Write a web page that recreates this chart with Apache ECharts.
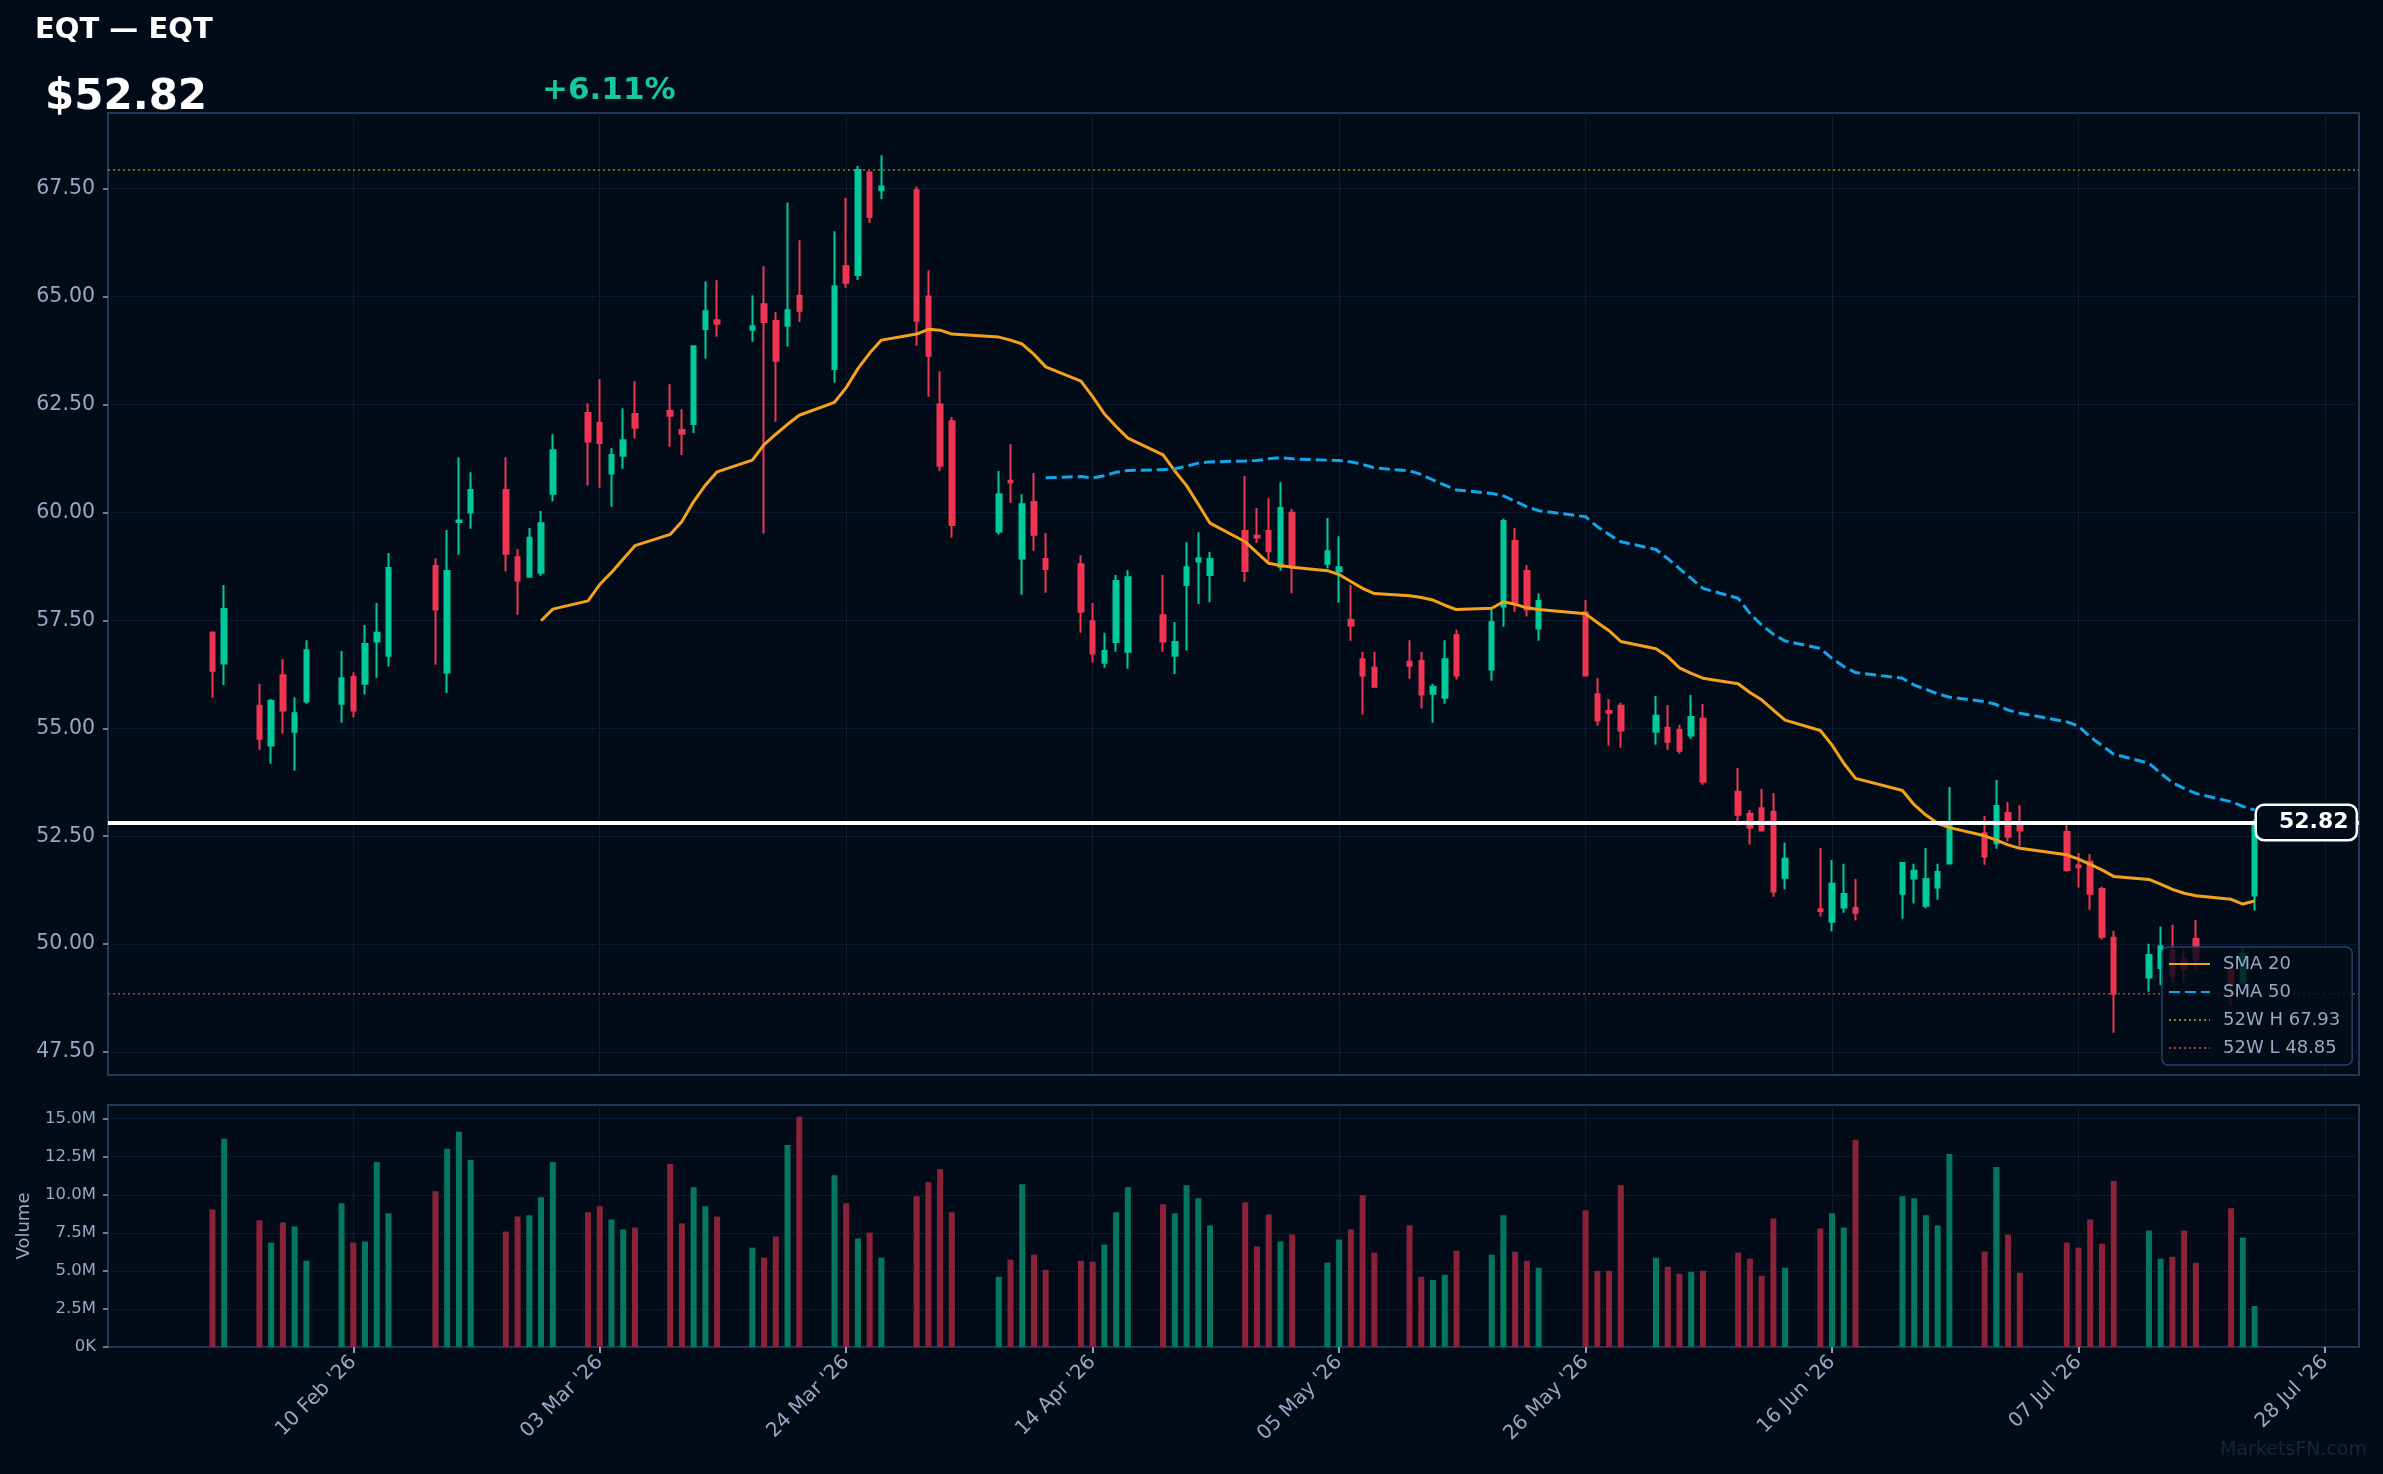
<!DOCTYPE html>
<html>
<head>
<meta charset="utf-8">
<title>EQT</title>
<script src="https://cdn.jsdelivr.net/npm/echarts@6/dist/echarts.min.js"></script>
<style>
  html, body { margin: 0; padding: 0; background: #010c18; }
  #chart { width: 2383px; height: 1474px; }
</style>
</head>
<body>
<div id="chart"></div>
<script>
// trading days
const dates = ['2026-01-29','2026-01-30','2026-02-02','2026-02-03','2026-02-04','2026-02-05','2026-02-06','2026-02-09','2026-02-10','2026-02-11',
  '2026-02-12','2026-02-13','2026-02-17','2026-02-18','2026-02-19','2026-02-20','2026-02-23','2026-02-24','2026-02-25','2026-02-26',
  '2026-02-27','2026-03-02','2026-03-03','2026-03-04','2026-03-05','2026-03-06','2026-03-09','2026-03-10','2026-03-11','2026-03-12',
  '2026-03-13','2026-03-16','2026-03-17','2026-03-18','2026-03-19','2026-03-20','2026-03-23','2026-03-24','2026-03-25','2026-03-26',
  '2026-03-27','2026-03-30','2026-03-31','2026-04-01','2026-04-02','2026-04-06','2026-04-07','2026-04-08','2026-04-09','2026-04-10',
  '2026-04-13','2026-04-14','2026-04-15','2026-04-16','2026-04-17','2026-04-20','2026-04-21','2026-04-22','2026-04-23','2026-04-24',
  '2026-04-27','2026-04-28','2026-04-29','2026-04-30','2026-05-01','2026-05-04','2026-05-05','2026-05-06','2026-05-07','2026-05-08',
  '2026-05-11','2026-05-12','2026-05-13','2026-05-14','2026-05-15','2026-05-18','2026-05-19','2026-05-20','2026-05-21','2026-05-22',
  '2026-05-26','2026-05-27','2026-05-28','2026-05-29','2026-06-01','2026-06-02','2026-06-03','2026-06-04','2026-06-05','2026-06-08',
  '2026-06-09','2026-06-10','2026-06-11','2026-06-12','2026-06-15','2026-06-16','2026-06-17','2026-06-18','2026-06-22','2026-06-23',
  '2026-06-24','2026-06-25','2026-06-26','2026-06-29','2026-06-30','2026-07-01','2026-07-02','2026-07-06','2026-07-07','2026-07-08',
  '2026-07-09','2026-07-10','2026-07-13','2026-07-14','2026-07-15','2026-07-16','2026-07-17','2026-07-20','2026-07-21','2026-07-22'];

const opens = [57.21,56.50,55.52,54.60,56.23,54.92,55.62,55.57,56.19,56.03,
  57.01,56.68,58.76,56.29,59.78,60.00,60.52,58.96,58.51,58.60,
  60.43,62.30,62.07,60.90,61.31,62.28,62.35,61.91,62.05,64.25,
  64.45,64.23,64.82,64.43,64.32,65.01,63.32,65.70,65.50,67.88,
  67.46,67.46,65.00,62.50,62.11,59.55,60.73,58.93,60.24,58.92,
  58.80,57.48,56.52,57.00,56.77,57.62,56.68,58.32,58.86,58.55,
  59.57,59.46,59.57,58.74,59.99,58.81,58.63,57.51,56.60,56.40,
  56.54,56.56,55.80,55.71,57.16,56.36,57.82,59.34,58.64,57.31,
  57.69,55.79,55.40,55.52,54.92,55.01,54.96,54.83,55.22,53.53,
  53.02,53.15,53.06,51.54,50.81,50.52,50.85,50.84,51.17,51.52,
  50.89,51.31,51.87,52.57,52.34,53.04,52.79,52.60,51.82,51.91,
  51.28,50.15,49.23,49.45,49.85,49.64,50.12,49.44,49.11,51.13];

const highs = [57.25,58.32,56.03,55.68,56.60,55.72,57.04,56.79,56.30,57.39,
  57.90,59.06,58.94,59.59,61.28,60.93,61.28,59.15,59.64,60.03,
  61.81,62.53,63.09,61.49,62.41,63.04,62.97,62.39,63.87,65.35,
  65.38,65.03,65.70,64.64,67.18,66.30,66.51,67.28,68.02,67.90,
  68.27,67.55,65.61,63.27,62.21,60.96,61.58,60.42,60.91,59.52,
  59.01,57.90,57.21,58.55,58.66,58.55,57.46,59.31,59.54,59.08,
  60.84,60.10,60.33,60.70,60.08,59.87,59.45,58.32,56.77,56.77,
  57.04,56.77,56.03,57.04,57.28,57.75,59.85,59.64,58.78,58.13,
  57.97,56.16,55.68,55.59,55.75,55.54,55.08,55.77,55.56,54.08,
  53.11,53.60,53.50,52.35,52.23,51.95,51.86,51.51,51.90,51.86,
  52.23,51.86,53.64,52.97,53.80,53.29,53.22,52.79,52.11,52.09,
  51.33,50.31,50.01,50.41,50.45,49.87,50.56,49.50,49.91,52.90];

const lows = [55.71,56.00,54.50,54.18,54.88,54.02,55.57,55.13,55.25,55.78,
  56.17,56.43,56.47,55.82,59.02,59.62,58.63,57.63,58.51,58.53,
  60.25,60.62,60.57,60.13,61.01,61.71,61.52,61.33,61.84,63.56,
  64.07,63.95,59.51,62.10,63.84,64.41,63.00,65.20,65.38,66.70,
  67.26,63.86,62.68,60.96,59.41,59.48,60.22,58.09,59.11,58.14,
  57.21,56.52,56.40,56.77,56.38,56.77,56.26,56.80,57.88,57.92,
  58.39,59.29,58.86,58.65,58.13,58.70,57.91,57.03,55.32,55.94,
  56.15,55.46,55.13,55.57,56.13,56.10,57.35,57.70,57.59,57.03,
  56.20,55.06,54.60,54.55,54.62,54.50,54.41,54.76,53.69,52.75,
  52.31,52.61,51.10,51.27,50.64,50.30,50.73,50.55,50.59,50.94,
  50.83,51.03,51.87,51.84,52.21,52.38,52.26,51.68,51.31,50.80,
  50.11,47.95,48.90,49.05,49.11,49.11,49.39,48.58,49.05,50.78];

const closes = [56.33,57.76,54.76,55.63,55.41,55.35,56.81,56.16,55.41,56.95,
  57.21,58.71,57.75,58.64,59.81,60.52,59.04,58.42,59.41,59.75,
  61.44,61.64,61.61,61.33,61.67,61.96,62.24,61.82,63.85,64.66,
  64.37,64.31,64.41,63.51,64.68,64.67,65.24,65.32,67.93,66.84,
  67.55,64.44,63.63,61.08,59.71,60.42,60.69,60.19,59.48,58.69,
  57.70,56.73,56.79,58.41,58.50,57.01,57.00,58.73,58.94,58.92,
  58.64,59.42,59.10,60.10,58.74,59.10,58.73,57.38,56.22,55.96,
  56.45,55.78,55.96,56.60,56.22,57.46,59.80,57.91,57.75,57.95,
  56.22,55.18,55.36,54.95,55.29,54.69,54.48,55.26,53.76,53.00,
  52.70,52.63,51.22,51.98,50.77,51.40,51.16,50.73,51.88,51.70,
  51.51,51.67,52.74,52.03,53.20,52.49,52.63,51.72,51.78,51.17,
  50.17,48.85,49.75,49.95,49.27,49.42,49.64,49.08,49.78,52.82];

// volume in millions
const volumes = [9.04,13.68,8.32,6.86,8.18,7.92,5.67,9.44,6.86,6.93,
  12.15,8.78,10.24,13.02,14.14,12.29,7.59,8.58,8.65,9.84,
  12.15,8.85,9.24,8.38,7.72,7.85,12.02,8.12,10.5,9.24,
  8.58,6.53,5.87,7.26,13.28,15.13,11.29,9.44,7.13,7.52,
  5.87,9.9,10.83,11.69,8.85,4.61,5.74,10.7,6.07,5.07,
  5.67,5.6,6.73,8.85,10.5,9.38,8.78,10.63,9.77,7.99,
  9.51,6.6,8.71,6.93,7.39,5.54,7.06,7.72,9.97,6.2,
  7.99,4.61,4.41,4.74,6.33,6.07,8.65,6.27,5.67,5.21,
  8.98,5.01,5.01,10.63,5.87,5.27,4.81,4.94,5.01,6.2,
  5.8,4.68,8.45,5.21,7.79,8.78,7.85,13.61,9.9,9.77,
  8.65,7.99,12.68,6.27,11.82,7.39,4.88,6.86,6.53,8.38,
  6.79,10.9,7.65,5.8,5.93,7.65,5.54,9.11,7.19,2.69];

// SMA 20 from the 20th session (2026-02-26)
const sma20 = [57.49,57.76,57.95,58.33,58.61,58.92,59.23,59.49,59.79,60.25,
  60.63,60.94,61.21,61.57,61.81,62.04,62.25,62.55,62.89,63.33,
  63.69,63.99,64.13,64.24,64.22,64.13,64.06,63.99,63.90,63.66,
  63.37,63.04,62.68,62.28,61.99,61.72,61.33,60.96,60.62,60.19,
  59.75,59.32,59.07,58.82,58.77,58.73,58.65,58.56,58.40,58.24,
  58.12,58.07,58.03,57.97,57.85,57.75,57.78,57.93,57.87,57.79,
  57.75,57.65,57.45,57.26,57.01,56.84,56.66,56.40,56.27,56.16,
  56.03,55.83,55.66,55.42,55.19,54.95,54.61,54.19,53.84,53.56,
  53.23,52.99,52.80,52.70,52.51,52.41,52.30,52.22,52.07,51.97,
  51.85,51.72,51.57,51.50,51.39,51.27,51.18,51.12,51.04,50.93,51.00];

// SMA 50 from the 50th session (2026-04-10)
const sma50 = [60.80,60.83,60.80,60.85,60.93,60.97,60.99,61.01,61.07,61.14,
  61.17,61.19,61.20,61.24,61.27,61.24,61.21,61.20,61.17,61.11,
  61.03,60.96,60.88,60.75,60.63,60.52,60.44,60.38,60.26,60.13,
  60.04,59.90,59.67,59.49,59.32,59.14,58.93,58.70,58.47,58.24,
  58.01,57.66,57.39,57.18,57.02,56.85,56.62,56.43,56.29,56.16,
  56.00,55.90,55.80,55.72,55.62,55.55,55.42,55.35,55.15,55.05,
  54.80,54.60,54.40,54.19,53.96,53.74,53.61,53.49,53.30,53.19,53.11];

const high52 = 67.93;
const low52 = 48.85;

const xTickDates = ['2026-02-10','2026-03-03','2026-03-24','2026-04-14','2026-05-05','2026-05-26','2026-06-16','2026-07-07','2026-07-28'];
const priceTicks = [47.5, 50, 52.5, 55, 57.5, 60, 62.5, 65, 67.5];
const volTicks = [0, 2.5, 5, 7.5, 10, 12.5, 15];

const BG = '#010c18';
const UP = '#00c99c';
const DOWN = '#f03552';
const VUP = '#04785e';
const VDOWN = '#8c2239';
const GRID = '#172a3f';
const BORDER = '#203a58';
const TXT = '#94a9c4';
const FONT = 'DejaVu Sans';

const DAY = 86400000;
const T0 = Date.UTC(2026, 1, 10);
const MONTHS = ['Jan','Feb','Mar','Apr','May','Jun','Jul','Aug','Sep','Oct','Nov','Dec'];

function dayOf(s) {
  const p = s.split('-');
  return (Date.UTC(+p[0], +p[1] - 1, +p[2]) - T0) / DAY;
}
function fmtDay(v) {
  const d = new Date(T0 + Math.round(v) * DAY);
  return String(d.getUTCDate()).padStart(2, '0') + ' ' + MONTHS[d.getUTCMonth()] + " '" + String(d.getUTCFullYear()).slice(2);
}

const xs = dates.map(dayOf);
const xTicks = xTickDates.map(dayOf);
const xMin = xs[0] - 8.9;
const xMax = xs[xs.length - 1] + 8.9;

const candleData = dates.map((d, i) => [xs[i], opens[i], closes[i], lows[i], highs[i]]);
const volData = dates.map((d, i) => [xs[i], volumes[i] * 1e6]);
const sma20Data = sma20.map((v, i) => [xs[i + 19], v]);
const sma50Data = sma50.map((v, i) => [xs[i + 49], v]);

const last = closes[closes.length - 1];
const prev = closes[closes.length - 2];
const pct = (last / prev - 1) * 100;

const chart = echarts.init(document.getElementById('chart'));

const splitStyle = { show: true, lineStyle: { color: GRID, width: 1, type: 'dotted' } };
const tickStyle = { color: '#8fa0b8', width: 1.5 };

chart.setOption({
  backgroundColor: BG,
  animation: false,
  textStyle: { fontFamily: FONT },
  title: [
    { text: 'EQT — EQT', left: 35, top: 16, padding: 0,
      textStyle: { color: '#ffffff', fontSize: 29, fontWeight: 'bold', fontFamily: FONT } },
    { text: '$' + last.toFixed(2), left: 45, top: 77, padding: 0,
      textStyle: { color: '#ffffff', fontSize: 42, fontWeight: 'bold', fontFamily: FONT } },
    { text: (pct >= 0 ? '+' : '') + pct.toFixed(2) + '%', left: 542, top: 75, padding: 0,
      textStyle: { color: '#14c9a0', fontSize: 31, fontWeight: 'bold', fontFamily: FONT } },
    { text: 'MarketsFN.com', right: 16, bottom: 14, padding: 0,
      textStyle: { color: '#15263a', fontSize: 19, fontWeight: 'normal', fontFamily: FONT } }
  ],
  legend: {
    data: ['SMA 20', 'SMA 50', '52W H ' + high52.toFixed(2), '52W L ' + low52.toFixed(2)],
    orient: 'vertical',
    left: 2162,
    top: 947,
    padding: [8, 12, 8, 6],
    itemGap: 10,
    itemWidth: 41,
    itemHeight: 14,
    itemStyle: { opacity: 0, borderWidth: 0 },
    backgroundColor: 'rgba(2,12,24,0.82)',
    borderColor: '#23406a',
    borderWidth: 1.5,
    borderRadius: 6,
    textStyle: { color: TXT, fontSize: 18, fontFamily: FONT, padding: [0, 0, 0, 8] }
  },
  grid: [
    { left: 108, right: 24, top: 113, height: 962, show: true, backgroundColor: BG, borderColor: BORDER, borderWidth: 2 },
    { left: 108, right: 24, top: 1105, height: 242, show: true, backgroundColor: BG, borderColor: BORDER, borderWidth: 2 }
  ],
  xAxis: [
    { type: 'value', gridIndex: 0, min: xMin, max: xMax,
      axisLine: { show: false, onZero: false },
      axisTick: { show: false, customValues: xTicks },
      axisLabel: { show: false, customValues: xTicks },
      splitLine: splitStyle },
    { type: 'value', gridIndex: 1, min: xMin, max: xMax,
      axisLine: { show: false, onZero: false },
      axisTick: { show: true, length: 6, customValues: xTicks, lineStyle: { color: '#8fa0b8', width: 2 } },
      axisLabel: { show: true, customValues: xTicks, rotate: 45, margin: 12, color: TXT, fontSize: 20, fontFamily: FONT,
        formatter: fmtDay },
      splitLine: splitStyle }
  ],
  yAxis: [
    { type: 'value', gridIndex: 0, min: 46.97, max: 69.25,
      axisLine: { show: false, onZero: false },
      axisTick: { show: true, length: 5, customValues: priceTicks, lineStyle: tickStyle },
      axisLabel: { customValues: priceTicks, color: TXT, fontSize: 20.5, margin: 13, fontFamily: FONT,
        formatter: v => v.toFixed(2) },
      splitLine: splitStyle },
    { type: 'value', gridIndex: 1, min: 0, max: 15.9e6,
      name: 'Volume', nameLocation: 'middle', nameGap: 75, nameRotate: 90,
      nameTextStyle: { color: TXT, fontSize: 18, fontFamily: FONT },
      axisLine: { show: false, onZero: false },
      axisTick: { show: true, length: 5, customValues: volTicks.map(v => v * 1e6), lineStyle: tickStyle },
      axisLabel: { customValues: volTicks.map(v => v * 1e6), color: TXT, fontSize: 16.5, margin: 12, fontFamily: FONT,
        formatter: v => v === 0 ? '0K' : (v / 1e6).toFixed(1) + 'M' },
      splitLine: splitStyle }
  ],
  series: [
    {
      type: 'candlestick', name: 'EQT', xAxisIndex: 0, yAxisIndex: 0,
      data: candleData,
      encode: { x: 0, y: [1, 2, 3, 4] },
      barWidth: 5,
      z: 2,
      itemStyle: { color: UP, color0: DOWN, borderColor: UP, borderColor0: DOWN, borderWidth: 2 },
      markLine: {
        silent: true,
        symbol: 'none',
        data: [{ yAxis: last }],
        lineStyle: { color: '#ffffff', width: 4, type: 'solid' },
        label: {
          show: true, position: 'end', distance: -102,
          formatter: () => last.toFixed(2),
          color: '#ffffff', fontSize: 22, fontWeight: 'bold', fontFamily: FONT,
          backgroundColor: BG, borderColor: '#ffffff', borderWidth: 2.5, borderRadius: 7,
          padding: [6, 7, 5, 22]
        }
      }
    },
    {
      type: 'line', name: 'SMA 20', xAxisIndex: 0, yAxisIndex: 0, data: sma20Data,
      symbol: 'none', showSymbol: false, z: 3,
      lineStyle: { color: '#f5a11c', width: 3 }, itemStyle: { color: '#f5a11c' }
    },
    {
      type: 'line', name: 'SMA 50', xAxisIndex: 0, yAxisIndex: 0, data: sma50Data,
      symbol: 'none', showSymbol: false, z: 3,
      lineStyle: { color: '#12a6e8', width: 3, type: [11, 5] }, itemStyle: { color: '#12a6e8' }
    },
    {
      type: 'line', name: '52W H ' + high52.toFixed(2), xAxisIndex: 0, yAxisIndex: 0,
      data: [[xMin, high52], [xMax, high52]],
      symbol: 'none', showSymbol: false, z: 1,
      lineStyle: { color: '#8a8420', width: 1.5, type: [2, 3] }, itemStyle: { color: '#8a8420' }
    },
    {
      type: 'line', name: '52W L ' + low52.toFixed(2), xAxisIndex: 0, yAxisIndex: 0,
      data: [[xMin, low52], [xMax, low52]],
      symbol: 'none', showSymbol: false, z: 1,
      lineStyle: { color: '#a4472e', width: 1.5, type: [2, 3] }, itemStyle: { color: '#a4472e' }
    },
    {
      type: 'bar', name: 'Volume', xAxisIndex: 1, yAxisIndex: 1, data: volData,
      barWidth: 6,
      itemStyle: { color: p => closes[p.dataIndex] >= opens[p.dataIndex] ? VUP : VDOWN }
    }
  ]
});
</script>
</body>
</html>
